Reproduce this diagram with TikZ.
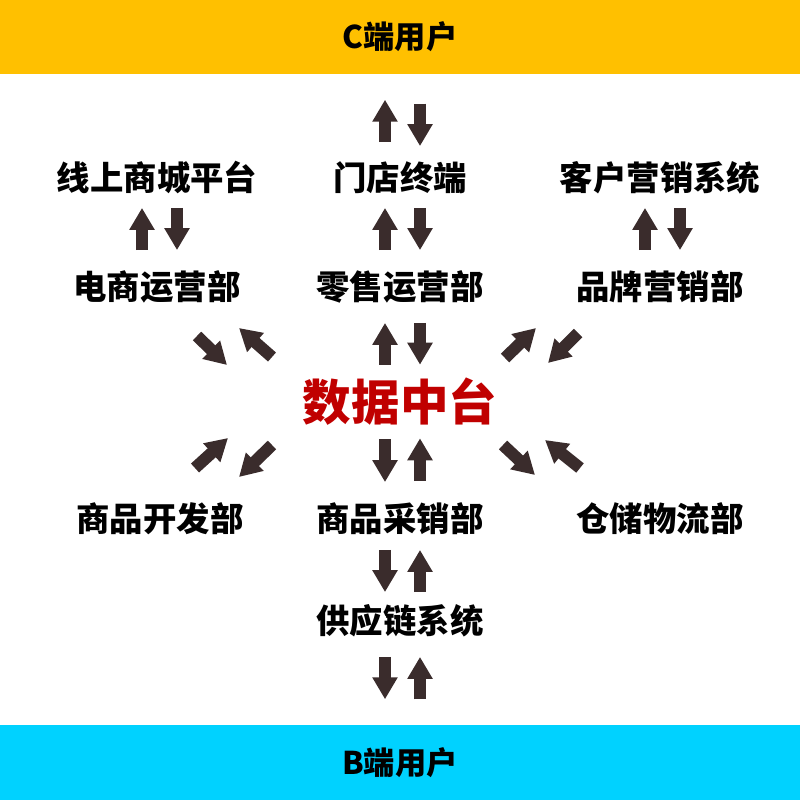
\documentclass[tikz,border=0pt]{standalone}
\usepackage{fontspec}
\newfontfamily\cjk{Noto Sans CJK SC}
\usetikzlibrary{arrows.meta}
\definecolor{cbar}{HTML}{FFC000}
\definecolor{bbar}{HTML}{00D2FF}
\definecolor{arrowbrown}{HTML}{3A2C2C}
\definecolor{hubred}{HTML}{C00000}
\tikzset{
  userbar/.style={inner sep=0pt, minimum width=8cm, minimum height=0.74cm,
    text height=0.25cm, text depth=0.016cm,
    font={\cjk\bfseries\fontsize{8.9}{10}\selectfont}},
  dept/.style={inner sep=0pt, text height=0.267cm, text depth=0.017cm,
    font={\cjk\bfseries\fontsize{9.5}{11}\selectfont}},
  hub/.style={inner sep=0pt, text height=0.388cm, text depth=0.024cm, text=hubred,
    font={\cjk\bfseries\fontsize{13.8}{16}\selectfont}},
  flow/.style={draw=arrowbrown, line width=0.12cm,
    -{Triangle[width=0.24cm,length=0.22cm]}}
}
\begin{document}
\begin{tikzpicture}[x=0.01cm, y=-0.01cm]
            \useasboundingbox (0,0) rectangle (800,800);

            % user bars
            \node[userbar, fill=cbar] (cuser) at (400,37) {C端用户};
            \node[userbar, fill=bbar, minimum height=0.75cm] (buser) at (400,762.5) {B端用户};

            % departments and systems
            \node[dept] (online) at (157,178) {线上商城平台};
            \node[dept] (store) at (400,178) {门店终端};
            \node[dept] (crm) at (660,178) {客户营销系统};
            \node[dept] (ecom) at (157,287) {电商运营部};
            \node[dept] (retail) at (400,287) {零售运营部};
            \node[dept] (brand) at (660,287) {品牌营销部};
            \node[hub] (data) at (400,402) {数据中台};
            \node[dept] (product) at (160,519) {商品开发部};
            \node[dept] (purchase) at (400,519) {商品采销部};
            \node[dept] (logistics) at (660,519) {仓储物流部};
            \node[dept] (supply) at (400,621) {供应链系统};

            % vertical arrows
            \draw[flow] ([shift={(-15,-21)}]store.north) -- ([shift={(-15,25)}]cuser.south);
            \draw[flow] ([shift={(20,29)}]cuser.south) -- ([shift={(20,-17)}]store.north);
            \draw[flow] ([shift={(-15,-22)}]ecom.north) -- ([shift={(-15,15)}]online.south);
            \draw[flow] ([shift={(20,15)}]online.south) -- ([shift={(20,-22)}]ecom.north);
            \draw[flow] ([shift={(-15,-22)}]retail.north) -- ([shift={(-15,15)}]store.south);
            \draw[flow] ([shift={(20,15)}]store.south) -- ([shift={(20,-22)}]retail.north);
            \draw[flow] ([shift={(-15,-22)}]brand.north) -- ([shift={(-15,15)}]crm.south);
            \draw[flow] ([shift={(20,15)}]crm.south) -- ([shift={(20,-22)}]brand.north);
            \draw[flow] ([shift={(-15,-16)}]data.north) -- ([shift={(-15,21)}]retail.south);
            \draw[flow] ([shift={(20,21)}]retail.south) -- ([shift={(20,-16)}]data.north);
            \draw[flow] ([shift={(-15,16)}]data.south) -- ([shift={(-15,-22)}]purchase.north);
            \draw[flow] ([shift={(20,-23)}]purchase.north) -- ([shift={(20,15)}]data.south);
            \draw[flow] ([shift={(-15,16)}]purchase.south) -- ([shift={(-15,-14)}]supply.north);
            \draw[flow] ([shift={(20,-14)}]supply.north) -- ([shift={(20,16)}]purchase.south);
            \draw[flow] ([shift={(-15,21)}]supply.south) -- ([shift={(-15,-25)}]buser.north);
            \draw[flow] ([shift={(20,-25)}]buser.north) -- ([shift={(20,21)}]supply.south);

            % diagonal arrows
            \draw[flow] ([shift={(40,49)}]ecom.center) -- ([shift={(-173,-37)}]data.center);
            \draw[flow] ([shift={(-128,-45)}]data.center) -- ([shift={(82,41)}]ecom.center);
            \draw[flow] ([shift={(105,-44)}]data.center) -- ([shift={(-124,41)}]brand.center);
            \draw[flow] ([shift={(-82,46)}]brand.center) -- ([shift={(148,-39)}]data.center);
            \draw[flow] ([shift={(35,-51)}]product.center) -- ([shift={(-172,36)}]data.center);
            \draw[flow] ([shift={(-128,43)}]data.center) -- ([shift={(79,-42)}]product.center);
            \draw[flow] ([shift={(103,43)}]data.center) -- ([shift={(-125,-44)}]logistics.center);
            \draw[flow] ([shift={(-80,-51)}]logistics.center) -- ([shift={(145,38)}]data.center);
        \end{tikzpicture}
\end{document}
